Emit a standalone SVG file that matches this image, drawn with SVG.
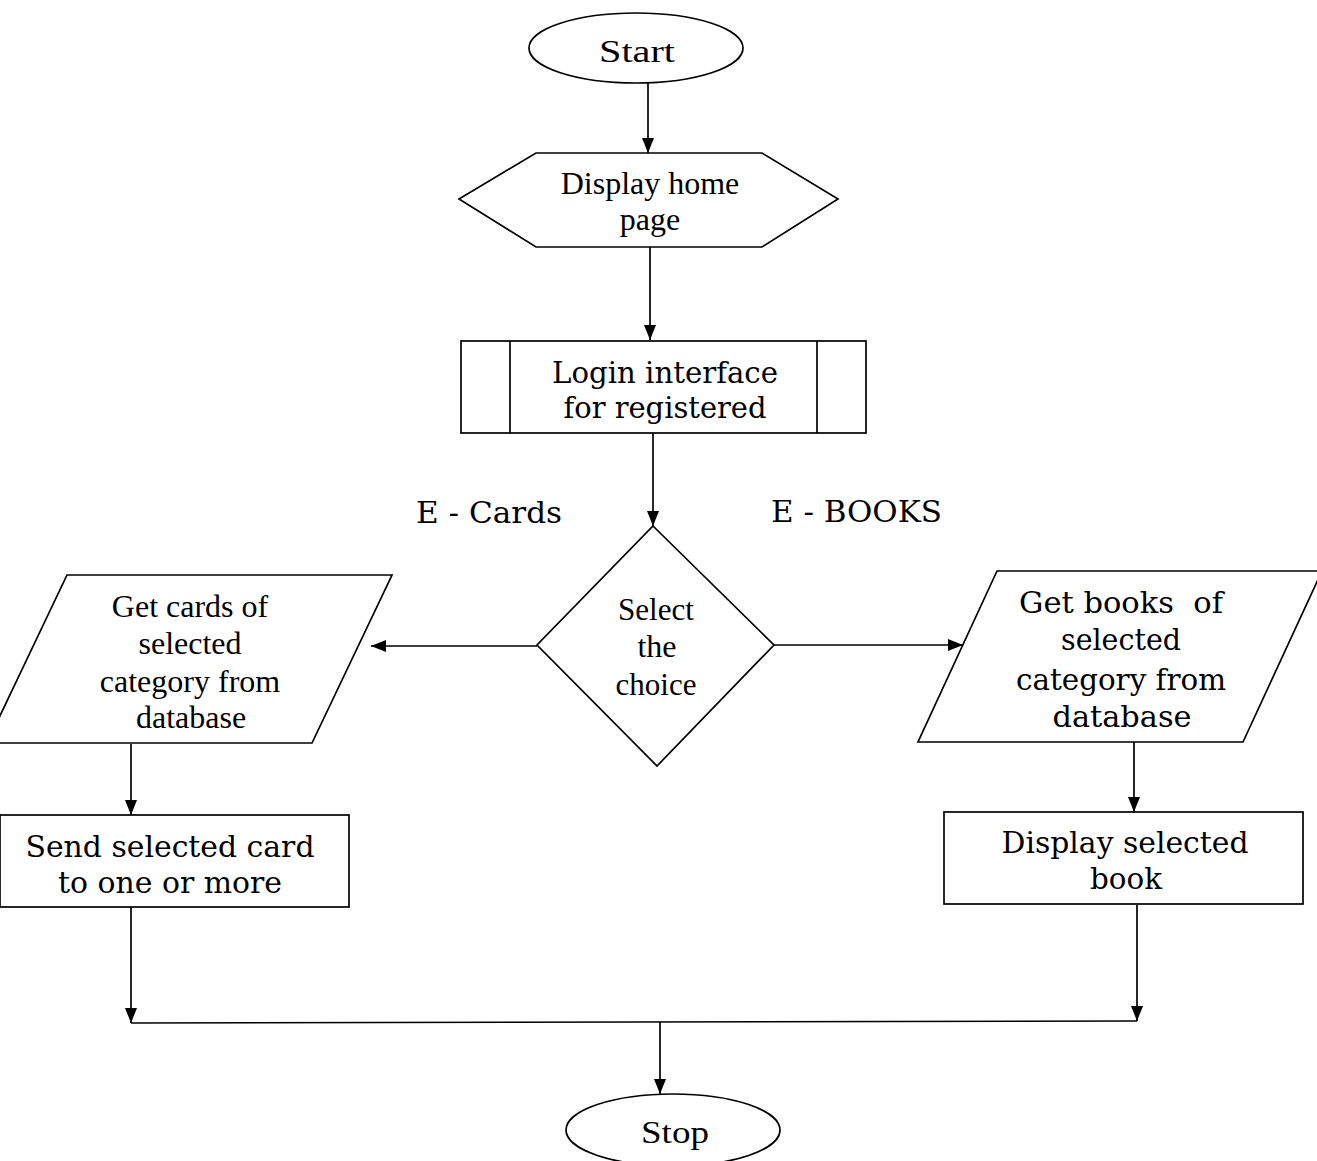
<svg xmlns="http://www.w3.org/2000/svg" width="1317" height="1161" viewBox="0 0 1317 1161">
<defs>
<marker id="ah" viewBox="0 0 15 12" refX="15" refY="6" markerWidth="15" markerHeight="12" markerUnits="userSpaceOnUse" orient="auto">
<path d="M0,0 L15,6 L0,12 z" fill="#000"/>
</marker>
<style>
.shape{fill:#fff;stroke:#000;stroke-width:1.7}
.conn{fill:none;stroke:#000;stroke-width:1.7}
.arr{marker-end:url(#ah)}
.tm{font-family:"Liberation Serif","Times New Roman",serif;font-size:32px;fill:#000;text-anchor:middle}
.bk{font-family:"DejaVu Serif","Liberation Serif",serif;font-size:29px;fill:#000;text-anchor:middle}
.lbl{font-family:"DejaVu Serif","Liberation Serif",serif;font-size:29px;fill:#000}
</style>
</defs>
<rect width="1317" height="1161" fill="#fff"/>
<g id="connectors">
<line class="conn arr" x1="648" y1="83" x2="648" y2="153"/>
<line class="conn arr" x1="650" y1="247" x2="650" y2="340"/>
<line class="conn arr" x1="653" y1="433" x2="653" y2="526"/>
<line class="conn arr" x1="537" y1="646" x2="371" y2="646"/>
<line class="conn arr" x1="773" y1="645" x2="963" y2="645"/>
<line class="conn arr" x1="131" y1="744" x2="131" y2="815"/>
<line class="conn arr" x1="1134" y1="742" x2="1134" y2="812"/>
<line class="conn arr" x1="131" y1="907" x2="131" y2="1023"/>
<line class="conn arr" x1="1137" y1="905" x2="1137" y2="1021"/>
<line class="conn" x1="131" y1="1023" x2="1137" y2="1021"/>
<line class="conn arr" x1="660" y1="1022" x2="660" y2="1094"/>
</g>
<g id="start">
<ellipse class="shape" cx="636" cy="48" rx="107" ry="35"/>
<text class="tm" x="637" y="62" font-size="34" textLength="76" lengthAdjust="spacingAndGlyphs">Start</text>
</g>
<g id="home">
<polygon class="shape" points="459,199 536,153 762,153 838,199 762,247 536,247"/>
<text class="tm" x="650" y="194">Display home</text>
<text class="tm" x="650" y="230">page</text>
</g>
<g id="login">
<rect class="shape" x="461" y="341" width="405" height="92"/>
<line class="conn" x1="510" y1="341" x2="510" y2="433"/>
<line class="conn" x1="817" y1="341" x2="817" y2="433"/>
<text class="bk" x="665" y="383" textLength="226" lengthAdjust="spacingAndGlyphs">Login interface</text>
<text class="bk" x="665" y="418" textLength="203" lengthAdjust="spacingAndGlyphs">for registered</text>
</g>
<g id="label-cards">
<text class="lbl" x="416" y="523" textLength="146" lengthAdjust="spacingAndGlyphs">E - Cards</text>
</g>
<g id="label-books">
<text class="lbl" x="771" y="522" textLength="171" lengthAdjust="spacingAndGlyphs">E - BOOKS</text>
</g>
<g id="choice">
<polygon class="shape" points="653,526 774,645 657,766 537,645"/>
<text class="tm" x="656" y="620" textLength="76" lengthAdjust="spacingAndGlyphs">Select</text>
<text class="tm" x="657" y="657" textLength="39" lengthAdjust="spacingAndGlyphs">the</text>
<text class="tm" x="656" y="695" textLength="81" lengthAdjust="spacingAndGlyphs">choice</text>
</g>
<g id="get-cards">
<polygon class="shape" points="67,575 392,575 312,743 -13,743"/>
<text class="tm" x="190" y="617">Get cards of</text>
<text class="tm" x="190" y="654">selected</text>
<text class="tm" x="190" y="692">category from</text>
<text class="tm" x="191" y="728">database</text>
</g>
<g id="get-books">
<polygon class="shape" points="997,571 1322,571 1243,742 918,742"/>
<text class="bk" x="1121" y="613" xml:space="preserve" textLength="204" lengthAdjust="spacingAndGlyphs">Get books  of</text>
<text class="bk" x="1121" y="650" textLength="120" lengthAdjust="spacingAndGlyphs">selected</text>
<text class="bk" x="1121" y="690" textLength="210" lengthAdjust="spacingAndGlyphs">category from</text>
<text class="bk" x="1122" y="727" textLength="139" lengthAdjust="spacingAndGlyphs">database</text>
</g>
<g id="send-card">
<rect class="shape" x="0" y="815" width="349" height="92"/>
<text class="bk" x="170" y="857" textLength="289" lengthAdjust="spacingAndGlyphs">Send selected card</text>
<text class="bk" x="170" y="893" textLength="224" lengthAdjust="spacingAndGlyphs">to one or more</text>
</g>
<g id="display-book">
<rect class="shape" x="944" y="812" width="359" height="92"/>
<text class="bk" x="1125" y="853" textLength="247" lengthAdjust="spacingAndGlyphs">Display selected</text>
<text class="bk" x="1126" y="889" textLength="72" lengthAdjust="spacingAndGlyphs">book</text>
</g>
<g id="stop">
<ellipse class="shape" cx="673" cy="1130" rx="107" ry="36"/>
<text class="tm" x="675" y="1143" font-size="34" textLength="68" lengthAdjust="spacingAndGlyphs">Stop</text>
</g>
</svg>
